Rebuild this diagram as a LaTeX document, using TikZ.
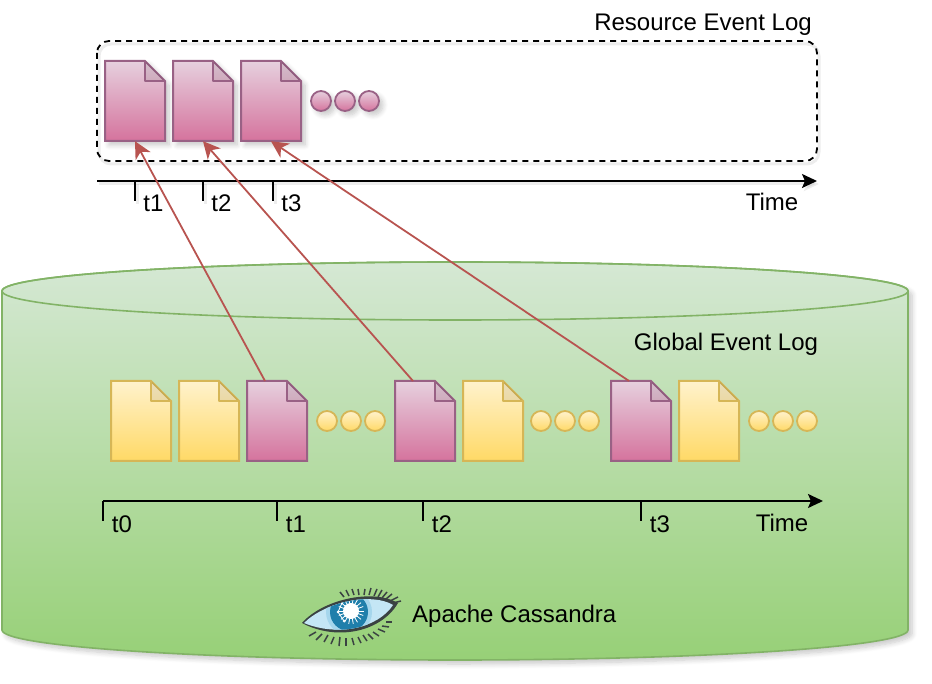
\documentclass[tikz,border=0pt]{standalone}
\usepackage{fontspec}
\setmainfont{Liberation Sans}
\usetikzlibrary{arrows.meta, positioning, calc, shadows.blur}

\definecolor{pinktop}{HTML}{E6D0DE}
\definecolor{pinkbot}{HTML}{D5739D}
\definecolor{pinkline}{HTML}{996185}
\definecolor{yellowtop}{HTML}{FFF2CC}
\definecolor{yellowbot}{HTML}{FFD966}
\definecolor{yellowline}{HTML}{D6B656}
\definecolor{greentop}{HTML}{D5E8D4}
\definecolor{greenbot}{HTML}{97D077}
\definecolor{greenline}{HTML}{82B366}
\definecolor{linkred}{HTML}{B85450}
\definecolor{irisblue}{HTML}{1F7FAB}
\definecolor{eyepale}{HTML}{C4E6F5}
\definecolor{eyehalo}{HTML}{A5D6EC}
\definecolor{lashdark}{HTML}{3A4242}

\tikzset{
  softshadow/.style={blur shadow={shadow xshift=4pt,shadow yshift=-4pt,shadow blur steps=8,shadow blur radius=5pt,shadow opacity=22}},
  lineshadow/.style={preaction={draw=black,opacity=.07,line width=3pt,transform canvas={shift={(2pt,-3pt)}}}},
  pinkfill/.style={top color=pinktop,bottom color=pinkbot,draw=pinkline},
  yellowfill/.style={top color=yellowtop,bottom color=yellowbot,draw=yellowline},
  label/.style={font=\fontsize{24}{28}\selectfont,inner sep=0pt},
  axis/.style={draw=black,line width=1.8pt,-{Stealth[length=15pt,width=14pt,inset=3pt]}},
  tick/.style={draw=black,line width=1.5pt},
  link/.style={draw=linkred,line width=1.8pt,-{Stealth[length=17pt,width=17pt,inset=5pt]}}
}

% #1 name, #2 left, #3 top, #4 colours, #5 extras
\newcommand{\docnode}[5]{
  \node[minimum width=60pt,minimum height=80pt,inner sep=0pt] (#1) at (#2+30,#3+40) {};
  \path[#4,line width=2pt,#5] (#2,#3) -- (#2+40,#3) -- (#2+60,#3+20) -- (#2+60,#3+80) -- (#2,#3+80) -- cycle;
  \fill[black,opacity=.08] (#2+40,#3) -- (#2+60,#3+20) -- (#2+40,#3+20) -- cycle;
  \draw[#4,shade=none,fill=none,line width=2pt,line join=round] (#2+40,#3) -- (#2+40,#3+20) -- (#2+60,#3+20);
  \coordinate (#1-top) at (#2+18,#3);
}
% #1 centre x, #2 y, #3 colours, #4 extras
\newcommand{\dotrow}[4]{
  \foreach \dx in {-24,0,24} {
    \path[#3,line width=1.8pt,#4] (#1+\dx,#2) circle[radius=10pt];
  }
}

\begin{document}
\begin{tikzpicture}[x=1pt,y=-1pt]
  \useasboundingbox (0,0) rectangle (932,684);

  % Cassandra cylinder
  \path[top color=greentop,bottom color=greenbot,draw=greenline,line width=1.6pt,softshadow]
    (2,291) -- (2,630) arc[start angle=180,end angle=360,x radius=453pt,y radius=30pt]
    -- (908,291) arc[start angle=0,end angle=180,x radius=453pt,y radius=29pt] -- cycle;
  \draw[greenline,line width=1.6pt] (455,291) ellipse[x radius=453pt,y radius=29pt];
  \node[label] (globallog) at (726,344) {Global Event Log};

  % Eye
  \foreach \xa/\ya/\xb/\yb in {344/597/340/592,349/596/346/590,354/595/352/589,359/595/358/589,364/595/365/589,369/595/371/588,374/596/377/589,378/597/382/590,382/598/387/592,386/599/392/594,390/601/398/597,393/603/401/601,
      316/632/309/636,322/634/316/640,328/635/324/642,334/637/331/644,340/637/339/646,346/638/346/646,352/638/354/645,358/637/361/643,363/635/367/641,368/634/373/639,373/632/379/636,378/629/385/632,382/626/389/627,386/622/392/622} {
    \draw[lashdark,line width=1.5pt] (\xa,\ya) -- (\xb,\yb);
  }
  \path[fill=lashdark] (302,623) .. controls (322,600) and (372,588) .. (398,603)
    .. controls (382,631) and (338,642) .. (302,623) -- cycle;
  \begin{scope}
    \clip (304,623) .. controls (325,602) and (372,592) .. (393,605)
      .. controls (378,628) and (338,637) .. (304,623) -- cycle;
    \fill[eyepale] (300,585) rectangle (400,645);
    \fill[eyehalo] (349,612) circle[radius=23pt];
    \fill[irisblue] (349,612) circle[radius=19pt];
    \fill[white] (351,611) circle[radius=8pt];
    \foreach \a in {0,20,...,340} {
      \draw[white,line width=.8pt] (351,611) -- ++(\a:13pt);
    }
    \draw[white,line width=.8pt] (342,603) -- (338,612) -- (344,621);
    \fill[white] (342,603) circle[radius=1.4pt] (338,612) circle[radius=1.4pt] (344,621) circle[radius=1.4pt];
  \end{scope}
  \node[label,anchor=west] (cassandra) at (412,616) {Apache Cassandra};

  % Resource log
  \draw[black,line width=1.8pt,dash pattern=on 6pt off 5pt,rounded corners=12pt,lineshadow] (97,41) rectangle (817,161);
  \node[label] (resourcelog) at (703,25) {Resource Event Log};
  \docnode{res1}{105}{61}{pinkfill}{softshadow}
  \docnode{res2}{173}{61}{pinkfill}{softshadow}
  \docnode{res3}{241}{61}{pinkfill}{softshadow}
  \dotrow{345}{101}{pinkfill}{softshadow}

  % Resource axis
  \coordinate (resstart) at (97,181);
  \coordinate (resend) at (817,181);
  \draw[axis,lineshadow] (resstart) -- (resend);
  \foreach \x/\n in {135/1,203/2,273/3} {
    \draw[tick,lineshadow] (\x,181) -- (\x,201);
    \node[label] (rest\n) at (\x+18.5,203) {t\n};
  }
  \node[label] (restime) at (772,202) {Time};

  % Global log
  \docnode{glob1}{111}{381}{yellowfill}{}
  \docnode{glob2}{179}{381}{yellowfill}{}
  \docnode{glob3}{247}{381}{pinkfill}{}
  \dotrow{351}{421}{yellowfill}{}
  \docnode{glob4}{395}{381}{pinkfill}{}
  \docnode{glob5}{463}{381}{yellowfill}{}
  \dotrow{565}{421}{yellowfill}{}
  \docnode{glob6}{611}{381}{pinkfill}{}
  \docnode{glob7}{679}{381}{yellowfill}{}
  \dotrow{783}{421}{yellowfill}{}

  % Global axis
  \coordinate (globstart) at (103,501);
  \coordinate (globend) at (823,501);
  \draw[axis] (globstart) -- (globend);
  \foreach \x/\n in {103/0,277/1,423/2,641/3} {
    \draw[tick] (\x,501) -- (\x,521);
    \node[label] (globt\n) at (\x+19,524) {t\n};
  }
  \node[label] (globtime) at (782,523) {Time};

  % Links
  \draw[link] (glob3-top) -- (res1.south);
  \draw[link] (glob4-top) -- (res2.south);
  \draw[link] (glob6-top) -- (res3.south);
\end{tikzpicture}
\end{document}
